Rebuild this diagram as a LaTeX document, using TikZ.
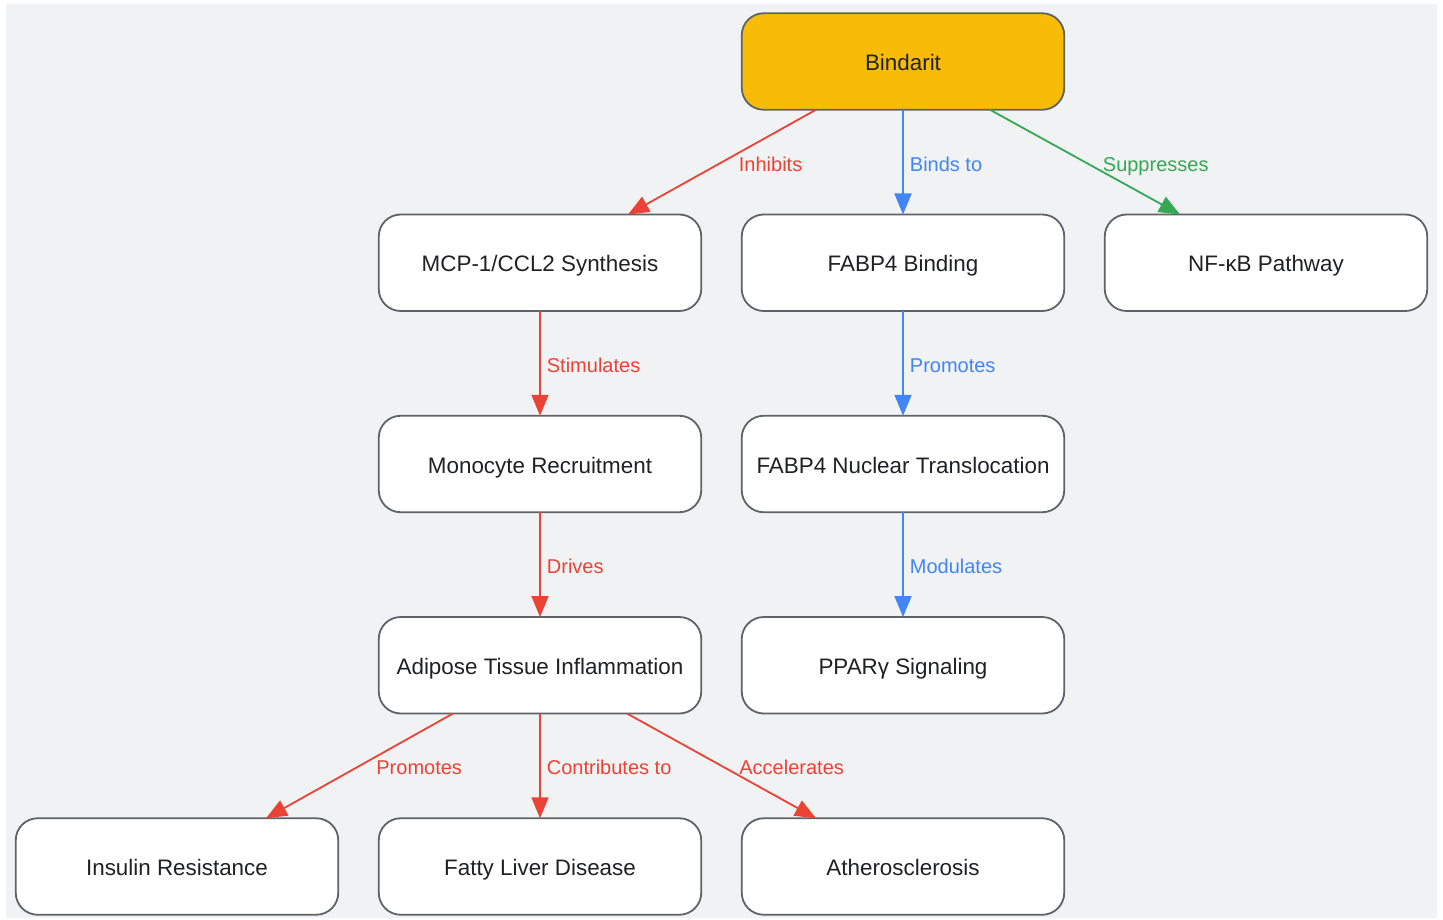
\documentclass[tikz,border=0pt]{standalone}
\usepackage{fontspec}
\setmainfont{Liberation Sans}
\usepackage{xcolor}
\usetikzlibrary{positioning,calc,arrows.meta}
\definecolor{bgcol}{HTML}{F1F2F4}
\definecolor{edgecol}{HTML}{5F6368}
\definecolor{txtcol}{HTML}{202124}
\definecolor{goldcol}{HTML}{F9BC06}
\definecolor{redcol}{HTML}{EA4335}
\definecolor{bluecol}{HTML}{4285F4}
\definecolor{greencol}{HTML}{34A853}
\begin{document}
\begin{tikzpicture}[x=1pt,y=1pt,
		box/.style={draw=edgecol,line width=1.8pt,fill=white,rounded corners=22pt,minimum width=322.5pt,minimum height=96.5pt,inner sep=0pt,outer sep=0pt,text=txtcol,text height=19pt,text depth=1pt,font=\fontsize{22.4}{26}\selectfont},
		link/.style={line width=1.8pt,-{Triangle[length=21pt,width=17pt]}},
		lbl/.style={anchor=west,inner sep=0pt,yshift=-4pt,text height=14pt,text depth=4pt,font=\fontsize{20}{24}\selectfont},
		node distance=104.75pt and 40.5pt]
		\useasboundingbox (0,0) rectangle (1443,-920);
		\fill[bgcol] (6,-4) rectangle (1437,-918);
		% top row
		\node[box,fill=goldcol] (bind) at (903,-61.5) {Bindarit};
		\node[box,below=of bind] (fabp) {FABP4 Binding};
		\node[box,left=of fabp] (mcp) {MCP-1/CCL2 Synthesis};
		\node[box,right=of fabp] (nfkb) {NF-κB Pathway};
		% middle rows
		\node[box,below=of mcp] (mono) {Monocyte Recruitment};
		\node[box,below=of fabp] (nucl) {FABP4 Nuclear Translocation};
		\node[box,below=of mono] (adip) {Adipose Tissue Inflammation};
		\node[box,below=of nucl] (ppar) {PPARγ Signaling};
		% bottom row
		\node[box,below=of adip] (fatty) {Fatty Liver Disease};
		\node[box,left=of fatty] (insul) {Insulin Resistance};
		\node[box,below=of ppar] (ather) {Atherosclerosis};
		% connectors
		\draw[link,redcol] ($(bind.south)+(-87,0)$) -- node[lbl,text=redcol,xshift=16pt] {Inhibits} ($(mcp.north)+(88,0)$);
		\draw[link,bluecol] (bind) -- node[lbl,text=bluecol,xshift=6pt] {Binds to} (fabp);
		\draw[link,greencol] ($(bind.south)+(87,0)$) -- node[lbl,text=greencol,xshift=17pt] {Suppresses} ($(nfkb.north)+(-86,0)$);
		\draw[link,redcol] (mcp) -- node[lbl,text=redcol,xshift=6pt] {Stimulates} (mono);
		\draw[link,bluecol] (fabp) -- node[lbl,text=bluecol,xshift=6pt] {Promotes} (nucl);
		\draw[link,redcol] (mono) -- node[lbl,text=redcol,xshift=6pt] {Drives} (adip);
		\draw[link,bluecol] (nucl) -- node[lbl,text=bluecol,xshift=6pt] {Modulates} (ppar);
		\draw[link,redcol] ($(adip.south)+(-87,0)$) -- node[lbl,text=redcol,xshift=16pt] {Promotes} ($(insul.north)+(89,0)$);
		\draw[link,redcol] (adip) -- node[lbl,text=redcol,xshift=6pt] {Contributes to} (fatty);
		\draw[link,redcol] ($(adip.south)+(87,0)$) -- node[lbl,text=redcol,xshift=17pt] {Accelerates} ($(ather.north)+(-87,0)$);
	\end{tikzpicture}
\end{document}
